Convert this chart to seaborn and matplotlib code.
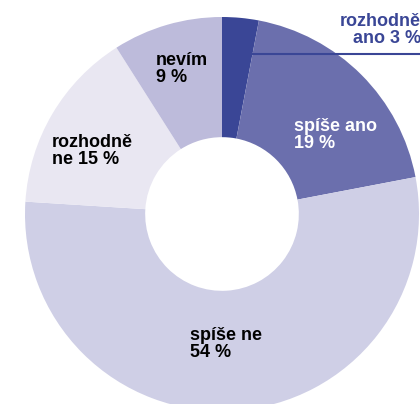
import matplotlib
matplotlib.use("Agg")
import matplotlib.pyplot as plt
import seaborn as sns

# ---- data ----
categories = ["rozhodně ano", "spíše ano", "spíše ne", "rozhodně ne", "nevím"]
values = [3, 19, 54, 15, 9]
label_texts = ["rozhodně\nano 3 %", "spíše ano\n19 %", "spíše ne\n54 %", "rozhodně\nne 15 %", "nevím\n9 %"]

# ---- style ----
colors = ["#3a4696", "#6b6fad", "#cfcfe6", "#e9e7f2", "#bdbbdb"]
text_colors = ["#3a4696", "white", "black", "black", "black"]
# label anchor positions (data units, radius = 1), alignment
label_pos = [(1.01, 0.868, "right"), (0.3655, 0.335, "left"), (-0.162, -0.726, "left"),
             (-0.863, 0.254, "left"), (-0.335, 0.670, "left")]

sns.set_theme(style="white")
plt.rcParams["font.family"] = ["Liberation Sans", "DejaVu Sans"]

fig = plt.figure(figsize=(4.2, 4.04), dpi=100)
ax = fig.add_axes([0, 0, 1, 1])
ax.pie(values, colors=colors, startangle=90, counterclock=False, radius=1.0,
       wedgeprops=dict(width=0.61, linewidth=0))
ax.set_xlim(-222 / 197, 198 / 197)
ax.set_ylim(-190 / 197, 214 / 197)
ax.set_aspect("auto")
ax.axis("off")

for txt, col, (x, y, ha) in zip(label_texts, text_colors, label_pos):
    ax.text(x, y, txt, color=col, ha=ha, va="baseline", multialignment=ha,
            fontsize=13, fontweight="bold", linespacing=1.02)

# leader line for the small slice
ax.plot([0.137, 1.02], [0.812, 0.812], color=colors[0], lw=1.5, solid_capstyle="butt")

fig.savefig("out.png", dpi=100)
